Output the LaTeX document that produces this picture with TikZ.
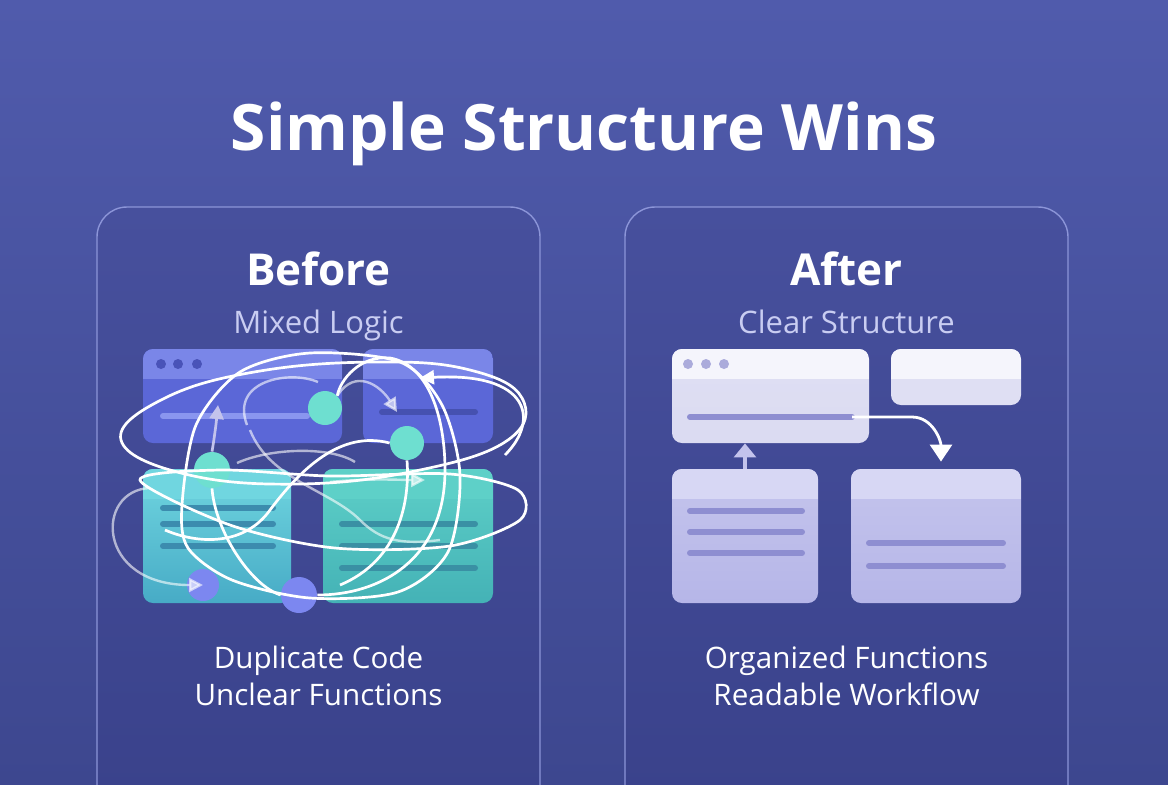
\documentclass[tikz,border=0pt]{standalone}
\usepackage{fontspec}
\setmainfont{Open Sans}
\usetikzlibrary{arrows.meta,positioning}

\definecolor{bgtop}{HTML}{505BAC}
\definecolor{bgbot}{HTML}{3D478F}
\definecolor{paneltop}{HTML}{47509D}
\definecolor{panelbot}{HTML}{39418A}
\definecolor{panelline}{HTML}{8C95D8}
\definecolor{subtext}{HTML}{C9CDF2}
% before
\definecolor{bluehead}{HTML}{7A86E8}
\definecolor{bluebody}{HTML}{5B67D7}
\definecolor{bluebar}{HTML}{8A96EF}
\definecolor{bluedot}{HTML}{4953B8}
\definecolor{bluebarb}{HTML}{4651B0}
\definecolor{tealhead}{HTML}{70D6E0}
\definecolor{tealbody}{HTML}{47ABC6}
\definecolor{tealbar}{HTML}{3C8CAE}
\definecolor{seahead}{HTML}{5ED0C8}
\definecolor{seabody}{HTML}{44B2B6}
\definecolor{seabar}{HTML}{3A90A4}
\definecolor{knot}{HTML}{6EDFD0}
\definecolor{knotb}{HTML}{7C87F0}
% after
\definecolor{lvwhite}{HTML}{F5F5FC}
\definecolor{lvlight}{HTML}{DFDFF3}
\definecolor{lvhead}{HTML}{D7D7F4}
\definecolor{lvbody}{HTML}{B6B6E8}
\definecolor{lvbar}{HTML}{8E8ED1}
\definecolor{lvdot}{HTML}{ABABDB}
\definecolor{lvarrow}{HTML}{C3C3EC}

\tikzset{
  panel/.style={draw=panelline, line width=0.7pt, rounded corners=15pt, top color=paneltop, bottom color=panelbot},
  win/.style n args={4}{rounded corners=5pt, inner sep=0pt, minimum width=#1, minimum height=#2, #3,
    path picture={\fill[#4, sharp corners] (path picture bounding box.north west) rectangle ([yshift=-15pt]path picture bounding box.north east);}},
  bar/.style={line width=3pt, line cap=round},
  tangle/.style={white, line width=1.35pt},
  faint/.style={white, opacity=0.6, line width=1.2pt},
  knotdot/.style={circle, inner sep=0pt, minimum size=#1},
  title/.style={font=\bfseries\fontsize{32}{38}\selectfont, text=white},
  head/.style={font=\bfseries\fontsize{22}{27}\selectfont, text=white},
  sub/.style={font=\fontsize{15.5}{19}\selectfont, text=subtext},
  note/.style={font=\fontsize{14.8}{18}\selectfont, text=white},
}

\begin{document}
\begin{tikzpicture}[x=0.5pt, y=-0.5pt, >={Triangle[width=7pt,length=7pt]}]
\clip (0,0) rectangle (1168,784);
\shade[top color=bgtop, bottom color=bgbot] (0,0) rectangle (1168,784);

% panels
\path[panel] (97,207) rectangle (540,840);
\path[panel] (625,207) rectangle (1068,840);

% texts
\node[title, anchor=base] (title) at (584,150) {Simple Structure Wins};
\node[head, anchor=base] (before) at (318.5,285) {Before};
\node[sub, anchor=base] (mixed) at (318.5,333) {Mixed Logic};
\node[note, anchor=base] (dup) at (318.5,668) {Duplicate Code};
\node[note, anchor=base] (unclear) at (318.5,705) {Unclear Functions};
\node[head, anchor=base] (after) at (846.5,285) {After};
\node[sub, anchor=base] (clear) at (846.5,333) {Clear Structure};
\node[note, anchor=base] (organized) at (846.5,668) {Organized Functions};
\node[note, anchor=base] (readable) at (846.5,705) {Readable Workflow};

% before: windows
\node[win={99.5pt}{47pt}{fill=bluebody}{bluehead}] (btl) at (242.5,396) {};
\node[win={65pt}{47pt}{fill=bluebody}{bluehead}] (btr) at (428,396) {};
\node[win={74pt}{67pt}{top color=tealhead, bottom color=tealbody}{tealhead}] (bbl) at (217,536) {};
\node[win={85pt}{67pt}{top color=seahead, bottom color=seabody}{seahead}] (bbr) at (408,536) {};
\foreach \x in {161,178,197} \fill[bluedot] (\x,364) circle (2.5pt);
\draw[bar, bluebar] (163,416) -- (307,416);
\draw[bar, bluebarb] (382,412) -- (475,412);
\foreach \y in {508,524,546} \draw[bar, tealbar] (163,\y) -- (273,\y);
\foreach \y in {524,546,568} \draw[bar, seabar] (342,\y) -- (475,\y);

% before: knots
\node[knotdot=17pt, fill=knot] (n1) at (325,408) {};
\node[knotdot=17pt, fill=knot] (n2) at (407,443) {};
\node[knotdot=18pt, fill=knot] (n3) at (212,470) {};
\node[knotdot=16pt, fill=knotb] (p1) at (203,585) {};
\node[knotdot=18pt, fill=knotb] (p2) at (299,595) {};

% before: tangle
\draw[tangle] plot[smooth cycle, tension=0.7] coordinates {(121,440) (165,398) (260,371) (380,362) (470,370) (522,398) (508,440) (420,470) (300,484) (185,474)};
\draw[tangle] plot[smooth cycle] coordinates {(140,480) (230,525) (335,548) (450,546) (520,520) (518,490) (450,474) (330,476) (220,470)};
\draw[tangle] plot[smooth cycle] coordinates {(182,505) (196,425) (240,372) (310,353) (400,362) (442,405) (460,475) (448,552) (398,592) (310,598) (232,580) (188,548)};
\draw[faint] (237,463) .. controls (270,448) and (330,446) .. (355,462);
\draw[faint] (247,425) .. controls (230,380) and (290,370) .. (318,382);
\draw[faint] (250,430) .. controls (270,480) and (330,490) .. (360,520) .. controls (380,540) and (400,545) .. (440,540);
\draw[faint, ->] (330,482) .. controls (370,478) and (400,480) .. (425,480);
\draw[tangle] (n2.west) .. controls (340,430) and (300,470) .. (270,510) .. controls (245,545) and (200,545) .. (165,530);
\draw[tangle] (n3.south) .. controls (215,530) and (250,585) .. (p2.west);
\draw[tangle] (p2.east) .. controls (380,595) and (445,560) .. (445,470) .. controls (445,420) and (430,365) .. (390,358) .. controls (360,355) and (340,380) .. (n1.north east);
\draw[tangle] (n2.south) .. controls (410,500) and (400,560) .. (340,585);
\draw[tangle, ->] (505,455) .. controls (540,420) and (530,372) .. (420,378);
\draw[faint, ->] (n1.north east) .. controls (355,368) and (380,385) .. (397,412);
\draw[tangle, lvarrow, ->] (n3.north) .. controls (214,440) and (216,425) .. (218,405);
\draw[faint, ->] (150,488) .. controls (95,490) and (95,585) .. (p1.center);

% after: windows
\node[win={98.5pt}{47pt}{top color=lvlight, bottom color=lvlight!90!lvbody}{lvwhite}] (atl) at (770.5,396) {};
\node[win={65pt}{28pt}{fill=lvlight}{lvwhite}] (atr) at (956,377) {};
\node[win={73pt}{67pt}{top color=lvbody!80!white, bottom color=lvbody}{lvhead}] (abl) at (745,536) {};
\node[win={85pt}{67pt}{top color=lvbody!80!white, bottom color=lvbody}{lvhead}] (abr) at (936,536) {};
\foreach \x in {688,706,724} \fill[lvdot] (\x,364) circle (2.5pt);
\draw[bar, lvbar] (690,417) -- (852,417);
\coordinate (flowstart) at (852,417);
\foreach \y in {511,532,553} \draw[bar, lvbar] (690,\y) -- (802,\y);
\foreach \y in {543,566} \draw[bar, lvbar] (869,\y) -- (1003,\y);

% after: connectors
\draw[white, line width=1.4pt, -{Triangle[width=11pt,length=8.5pt]}] (flowstart) -- (912,417) to[out=0, in=90] ([xshift=2.5pt, yshift=3.5pt]abr.north);
\draw[lvarrow, line width=1.6pt, -{Triangle[width=11pt,length=7pt]}] (abl.north) -- (abl.north |- atl.south);
\end{tikzpicture}
\end{document}
